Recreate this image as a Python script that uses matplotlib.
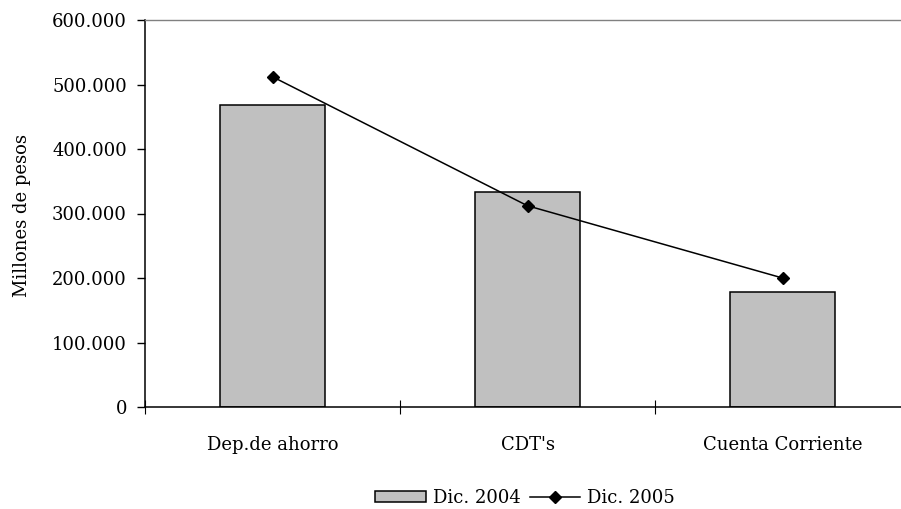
import matplotlib
matplotlib.use("Agg")
import matplotlib.pyplot as plt
from matplotlib.ticker import FuncFormatter, FixedLocator

categories = ["Dep.de ahorro", "CDT's", "Cuenta Corriente"]
dic_2004 = [468000, 333000, 178000]
dic_2005 = [512000, 312000, 200000]
y_ticks = [0, 100000, 200000, 300000, 400000, 500000, 600000]

plt.rcParams["font.family"] = ["DejaVu Serif"]

fig = plt.figure(figsize=(9.01, 5.09), dpi=100)
ax = fig.add_axes([145 / 901, 1 - 407 / 509, 765 / 901, 387 / 509])

x = list(range(len(categories)))
ax.bar(x, dic_2004, width=0.41, color="#c0c0c0", edgecolor="black", linewidth=1.1,
       label="Dic. 2004", zorder=2)
ax.plot(x, dic_2005, color="black", lw=1.1, marker="D", ms=6, label="Dic. 2005", zorder=3)

ax.set_xlim(-0.5, 2.5)
ax.set_ylim(0, 600000)
ax.set_yticks(y_ticks)
ax.yaxis.set_major_formatter(FuncFormatter(lambda v, p: f"{int(v):,}".replace(",", ".")))
ax.set_xticks(x)
ax.set_xticklabels(categories)
ax.xaxis.set_minor_locator(FixedLocator([-0.5, 0.5, 1.5, 2.5]))
ax.tick_params(axis="x", which="major", length=0, pad=21, labelsize=13)
ax.tick_params(axis="x", which="minor", direction="inout", length=10, width=0.8)
ax.tick_params(axis="y", direction="out", length=6, width=1, labelsize=13, pad=7)

ax.spines["right"].set_visible(False)
ax.spines["top"].set_color("#808080")
ax.spines["top"].set_linewidth(1)
ax.spines["left"].set_linewidth(1.1)
ax.spines["bottom"].set_linewidth(1.1)

fig.text(22 / 901, 1 - 216 / 509, "Millones de pesos", rotation=90, ha="center", va="center",
         fontsize=13)

handles, labels = ax.get_legend_handles_labels()
fig.legend(handles[::-1], labels[::-1], loc="center", bbox_to_anchor=(525 / 901, 1 - 498 / 509),
           ncol=2, frameon=False, fontsize=13, handlelength=2.8, handleheight=0.6,
           handletextpad=0.4, columnspacing=0.5, borderaxespad=0, borderpad=0)

fig.savefig("out.png", dpi=100)
